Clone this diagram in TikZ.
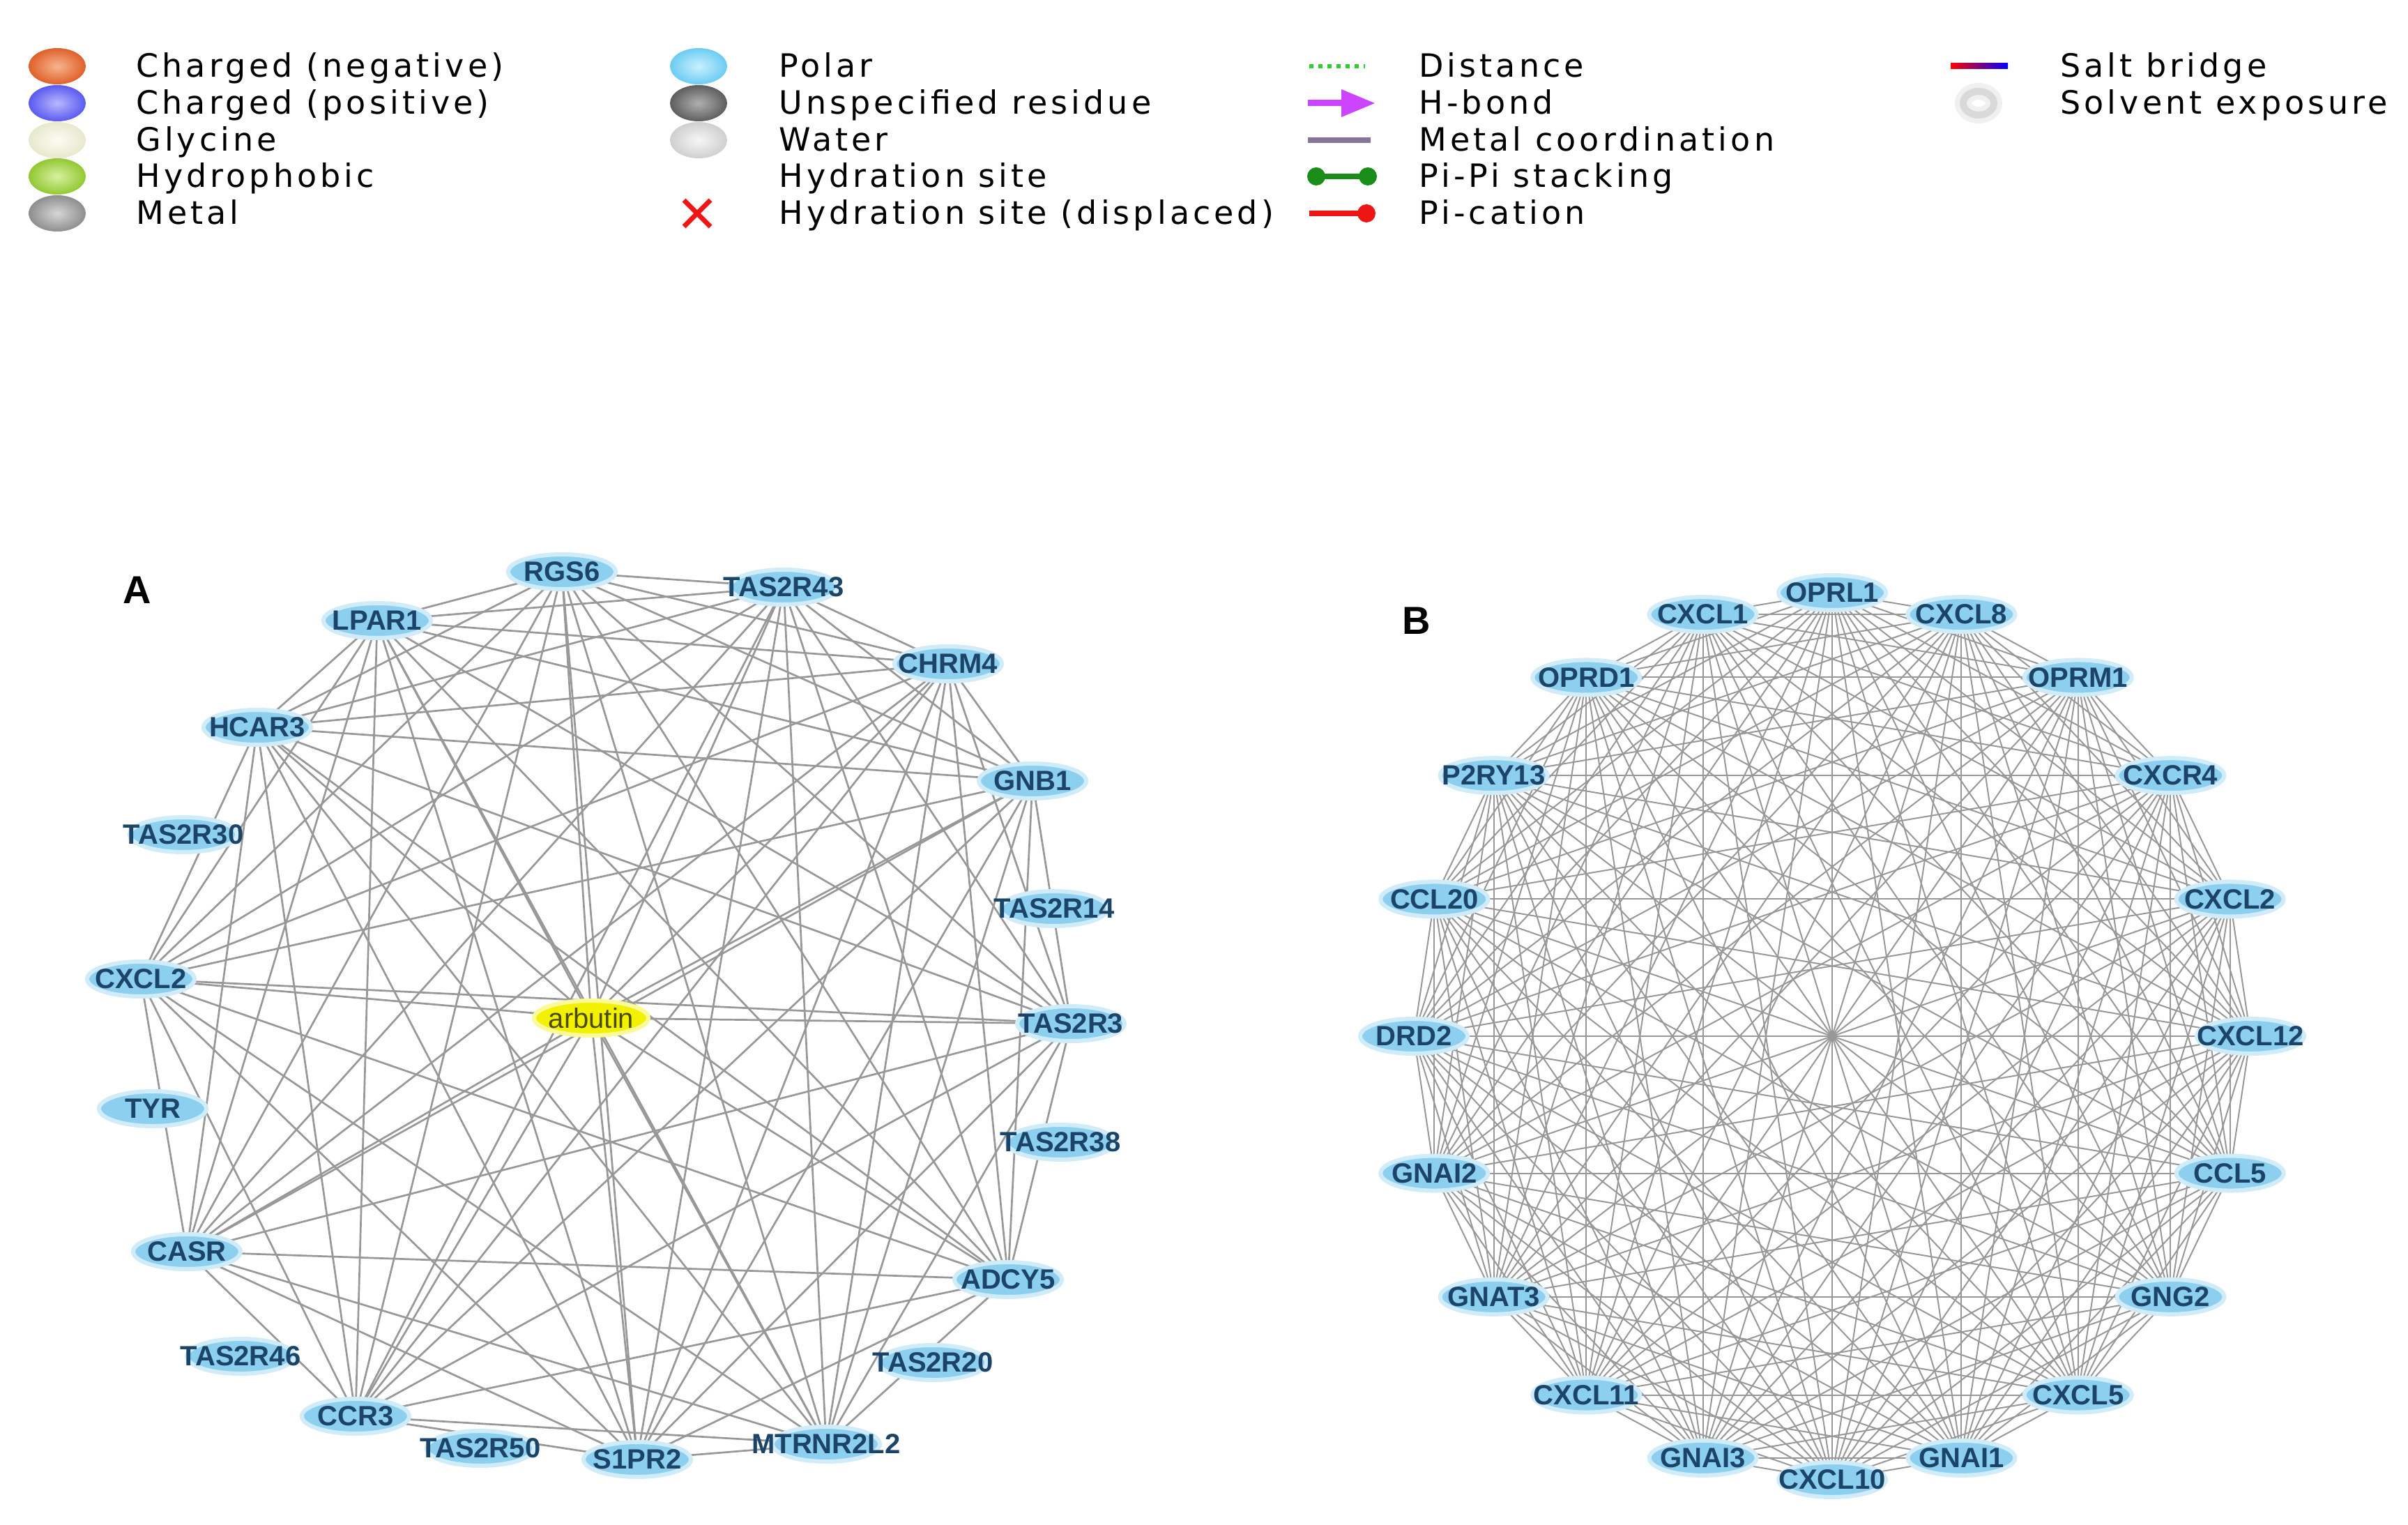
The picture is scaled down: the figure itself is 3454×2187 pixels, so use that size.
\documentclass[tikz,border=0pt]{standalone}
\usepackage{fontspec}
\setmainfont{Liberation Sans}
\newfontfamily\legfont[LetterSpace=11]{DejaVu Sans}
\usetikzlibrary{shapes.geometric,backgrounds}
\definecolor{nodeblue}{HTML}{8CCFEF}
\definecolor{nodetext}{HTML}{1B4468}
\definecolor{edgegray}{HTML}{989898}
\definecolor{arbyellow}{HTML}{F2F200}
\definecolor{arbtext}{HTML}{4B4B00}
\definecolor{negin}{HTML}{F6B58E}\definecolor{negout}{HTML}{E0602A}
\definecolor{posin}{HTML}{B8B8FF}\definecolor{posout}{HTML}{5A5AF0}
\definecolor{glyin}{HTML}{FCFCF4}\definecolor{glyout}{HTML}{E6E9CC}
\definecolor{hydin}{HTML}{D8F0A0}\definecolor{hydout}{HTML}{92C832}
\definecolor{metin}{HTML}{D6D6D6}\definecolor{metout}{HTML}{8E8E8E}
\definecolor{polin}{HTML}{C8F0FF}\definecolor{polout}{HTML}{6CCCF2}
\definecolor{unsin}{HTML}{B0B0B0}\definecolor{unsout}{HTML}{5E5E5E}
\definecolor{watin}{HTML}{F6F6F6}\definecolor{watout}{HTML}{CFCFCF}
\definecolor{cdist}{HTML}{33CC33}
\definecolor{chb}{HTML}{CC44FF}
\definecolor{cmc}{HTML}{85759A}
\definecolor{cpipi}{HTML}{1A8C1A}
\definecolor{cpic}{HTML}{EE1515}
\newcommand{\zlab}[1]{\makebox[0pt]{#1}}
\begin{document}
\begin{tikzpicture}[x=0.5pt,y=-0.5pt,
  gnode/.style={ellipse, fill=nodeblue, draw=nodeblue!40, line width=3pt,
    minimum width=77pt, minimum height=25pt, inner sep=0pt,
    font=\bfseries\fontsize{20}{20}\selectfont, text=nodetext},
  arbnode/.style={ellipse, fill=arbyellow, draw=arbyellow!40, line width=3pt,
    minimum width=82pt, minimum height=25pt, inner sep=0pt,
    font=\fontsize{20}{20}\selectfont, text=arbtext},
  edgeA/.style={draw=edgegray, line width=1.35pt},
  edgeB/.style={draw=edgegray, line width=1pt},
  panel/.style={font=\bfseries\fontsize{28}{28}\selectfont, text=black},
  legtext/.style={anchor=base west, font=\legfont\fontsize{23}{23}\selectfont, inner sep=0pt},
  legball/.style={ellipse, minimum width=41pt, minimum height=26pt, inner sep=0pt}
]
\useasboundingbox (0,0) rectangle (3454,2187);

% ---------------- legend ----------------
\begin{scope}[shift={(0,5)}]
\foreach \c/\y/\t [count=\k] in {neg/90/Charged (negative), pos/143/Charged (positive), gly/196/Glycine, hyd/248/Hydrophobic, met/301/Metal}{
  \node[legball, shading=radial, inner color=\c in, outer color=\c out] (li\k) at (82,\y) {};
  \node[legtext] (lt\k) at (195,\y+16) {\t};
}
\foreach \c/\y/\t [count=\k] in {pol/90/Polar, uns/143/Unspecified residue, wat/196/Water}{
  \node[legball, shading=radial, inner color=\c in, outer color=\c out] (lj\k) at (1002,\y) {};
  \node[legtext] (lu\k) at (1117,\y+16) {\t};
}
\node[legtext] (lu4) at (1117,264) {Hydration site};
\node[legtext] (lu5) at (1117,317) {Hydration site (displaced)};
\coordinate (xc) at (1000,301);
\draw[cpic, line width=3.5pt] ([shift={(-19,-19)}]xc) -- ([shift={(19,19)}]xc);
\draw[cpic, line width=3.5pt] ([shift={(-19,19)}]xc) -- ([shift={(19,-19)}]xc);

% column 3
\coordinate (d1) at (1878,90);  \coordinate (d2) at (1958,90);
\draw[cdist, line width=3pt, dash pattern=on 3pt off 3.5pt] (d1) -- (d2);
\node[legtext] (lv1) at (2035,106) {Distance};
\coordinate (h1) at (1876,143); \coordinate (h2) at (1930,143);
\draw[chb, line width=4.5pt] (h1) -- (h2);
\fill[chb] (1924,123) -- (1972,143) -- (1924,163) -- cycle;
\node[legtext] (lv2) at (2035,159) {H-bond};
\coordinate (m1) at (1876,196); \coordinate (m2) at (1966,196);
\draw[cmc, line width=4pt] (m1) -- (m2);
\node[legtext] (lv3) at (2035,212) {Metal coordination};
\coordinate (p1) at (1888,248); \coordinate (p2) at (1962,248);
\draw[cpipi, line width=4pt] (p1) -- (p2);
\fill[cpipi] (p1) circle[radius=13];
\fill[cpipi] (p2) circle[radius=13];
\node[legtext] (lv4) at (2035,264) {Pi-Pi stacking};
\coordinate (q1) at (1878,301); \coordinate (q2) at (1960,301);
\draw[cpic, line width=4pt] (q1) -- (q2);
\fill[cpic] (q2) circle[radius=13];
\node[legtext] (lv5) at (2035,317) {Pi-cation};

% column 4
\shade[left color=red, right color=blue] (2798,86) rectangle (2880,94);
\node[legtext] (lw1) at (2955,106) {Salt bridge};
\coordinate (se) at (2838,143);
\draw[gray!12, line width=12pt] (se) ellipse[x radius=22, y radius=17];
\draw[gray!30, line width=5pt] (se) ellipse[x radius=22, y radius=17];
\node[legtext] (lw2) at (2955,159) {Solvent exposure};
\end{scope}

% ---------------- panel A ----------------
\node[panel] (labA) at (197,846) {A};
\node[gnode] (rgs)   at (806,820)  {\zlab{RGS6}};
\node[gnode] (tft)   at (1124,842) {\zlab{TAS2R43}};
\node[gnode] (lpar)  at (541,890)  {\zlab{LPAR1}};
\node[gnode] (chrm)  at (1360,952) {\zlab{CHRM4}};
\node[gnode] (hcar)  at (369,1043) {\zlab{HCAR3}};
\node[gnode] (gnb)   at (1481,1120) {\zlab{GNB1}};
\node[gnode] (tthirty) at (263,1197) {\zlab{TAS2R30}};
\node[gnode] (tfourteen) at (1512,1303) {\zlab{TAS2R14}};
\node[gnode] (cxclA) at (202,1404) {\zlab{CXCL2}};
\node[arbnode] (arb) at (848,1460) {\zlab{arbutin}};
\node[gnode] (tthree) at (1536,1468) {\zlab{TAS2R3}};
\node[gnode] (tyr)   at (219,1590) {\zlab{TYR}};
\node[gnode] (tthirtyeight) at (1521,1638) {\zlab{TAS2R38}};
\node[gnode] (casr)  at (268,1795) {\zlab{CASR}};
\node[gnode] (adcy)  at (1446,1835) {\zlab{ADCY5}};
\node[gnode] (tfortysix) at (345,1945) {\zlab{TAS2R46}};
\node[gnode] (ttwenty) at (1338,1954) {\zlab{TAS2R20}};
\node[gnode] (ccr)   at (510,2031) {\zlab{CCR3}};
\node[gnode] (tfifty) at (689,2077) {\zlab{TAS2R50}};
\node[gnode] (sipr)  at (914,2093) {\zlab{S1PR2}};
\node[gnode] (mtr)   at (1185,2071) {\zlab{MTRNR2L2}};

\begin{scope}[on background layer]
\foreach \u [count=\i] in {arb,rgs,tft,lpar,chrm,hcar,gnb,cxclA,tthree,casr,adcy,ccr,sipr,mtr}{
  \foreach \v [count=\j] in {arb,rgs,tft,lpar,chrm,hcar,gnb,cxclA,tthree,casr,adcy,ccr,sipr,mtr}{
    \ifnum\j>\i \draw[edgeA] (\u.center) -- (\v.center); \fi
  }
}
\end{scope}

% ---------------- panel B ----------------
\node[panel] (labB) at (2032,890) {B};
\foreach \lab [count=\k from 0] in {OPRL1,CXCL8,OPRM1,CXCR4,CXCL2,CXCL12,CCL5,GNG2,CXCL5,GNAI1,CXCL10,GNAI3,CXCL11,GNAT3,GNAI2,DRD2,CCL20,P2RY13,OPRD1,CXCL1}{
  \pgfmathsetmacro\ang{90-18*\k}
  \node[gnode] (b\k) at ({2628+600*cos(\ang)},{1486-636*sin(\ang)}) {\zlab{\lab}};
}
\begin{scope}[on background layer]
\foreach \i in {0,...,19}{
  \foreach \j in {0,...,19}{
    \ifnum\j>\i \draw[edgeB] (b\i.center) -- (b\j.center); \fi
  }
}
\end{scope}
\end{tikzpicture}
\end{document}
